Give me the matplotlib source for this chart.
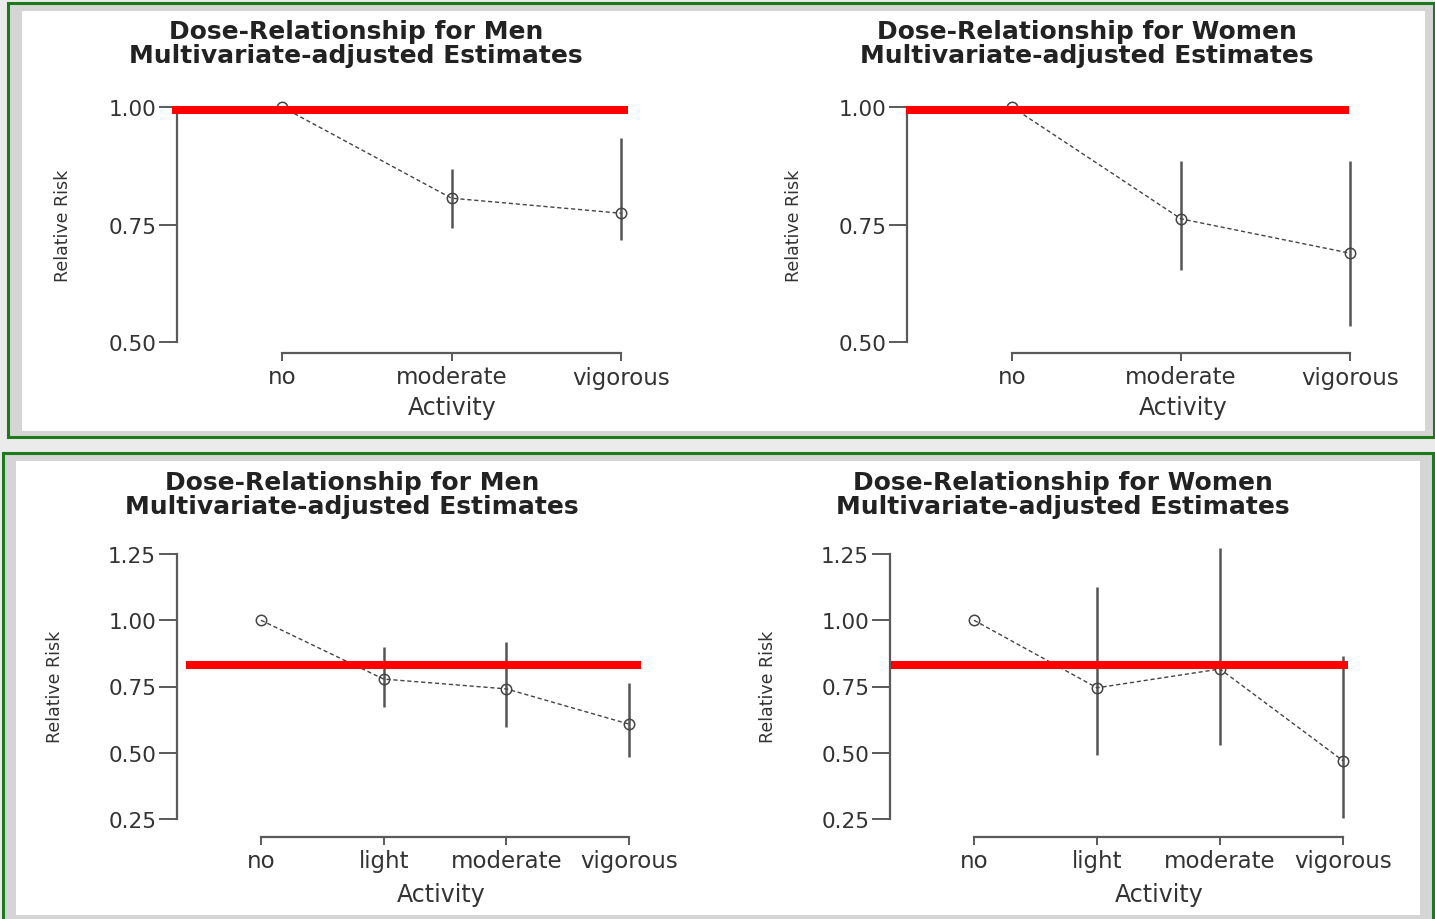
import numpy as np
import matplotlib
matplotlib.use('Agg')
import matplotlib.pyplot as plt
from matplotlib.patches import Rectangle

# data
cats3 = ['no', 'moderate', 'vigorous']
cats4 = ['no', 'light', 'moderate', 'vigorous']

men3_rr = [1.00, 0.806, 0.774]
men3_lo = [1.00, 0.743, 0.717]
men3_hi = [1.00, 0.868, 0.934]

women3_rr = [1.00, 0.762, 0.689]
women3_lo = [1.00, 0.653, 0.534]
women3_hi = [1.00, 0.885, 0.885]

men4_rr = [1.00, 0.778, 0.741, 0.608]
men4_lo = [1.00, 0.673, 0.597, 0.484]
men4_hi = [1.00, 0.899, 0.918, 0.763]

women4_rr = [1.00, 0.745, 0.816, 0.470]
women4_lo = [1.00, 0.491, 0.529, 0.254]
women4_hi = [1.00, 1.125, 1.273, 0.865]

ref_level = [0.994, 0.994, 0.831, 0.831]
yticks3 = [0.50, 0.75, 1.00]
yticks4 = [0.25, 0.50, 0.75, 1.00, 1.25]

titles = ['Dose-Relationship for Men\nMultivariate-adjusted Estimates',
          'Dose-Relationship for Women\nMultivariate-adjusted Estimates',
          'Dose-Relationship for Men\nMultivariate-adjusted Estimates',
          'Dose-Relationship for Women\nMultivariate-adjusted Estimates']

W, H = 1435, 920
fig = plt.figure(figsize=(W / 100, H / 100), dpi=100, facecolor='#ebebeb')

def fx(x):
    return x / W

def fy(y):
    return 1 - y / H

# green framed boxes
for (x0, y0, x1, y1), (wx0, wy0, wx1, wy1) in [((8, 4, 1434, 438), (22, 12, 1425, 432)),
                                              ((3, 454, 1433, 922), (16, 462, 1420, 916))]:
    fig.patches.append(Rectangle((fx(x0), fy(y1)), fx(x1 - x0), (y1 - y0) / H,
                                 transform=fig.transFigure, facecolor='#d5d5d5',
                                 edgecolor='#1b7a1b', linewidth=2.2, zorder=-3))
    fig.patches.append(Rectangle((fx(wx0), fy(wy1)), fx(wx1 - wx0), (wy1 - wy0) / H,
                                 transform=fig.transFigure, facecolor='white',
                                 edgecolor='none', zorder=-2))

txt = '#333333'
axc = '#5a5a5a'

def make_ax(box, xpx, ypx, yvals, n):
    left, right, top, bottom = box
    ax = fig.add_axes([fx(left), fy(bottom), fx(right - left), (bottom - top) / H])
    ax.set_zorder(1)
    ax.patch.set_alpha(0)
    xs = (xpx[1] - xpx[0]) / (n - 1)
    ax.set_xlim((left - xpx[0]) / xs, (right - xpx[0]) / xs)
    ys = (ypx[0] - ypx[1]) / (yvals[1] - yvals[0])
    ax.set_ylim(yvals[0] - (bottom - ypx[0]) / ys, yvals[1] + (ypx[1] - top) / ys)
    return ax

panels = [
    (cats3, men3_rr, men3_lo, men3_hi, yticks3, (177, 660, 95, 354), (282, 621), (343, 108), (0.5, 1.0), (-0.649, 2.04)),
    (cats3, women3_rr, women3_lo, women3_hi, yticks3, (907, 1400, 95, 354), (1012, 1350), (343, 108), (0.5, 1.0), (-0.627, 1.995)),
    (cats4, men4_rr, men4_lo, men4_hi, yticks4, (177, 660, 540, 838), (261, 629), (820, 555), (0.25, 1.25), (-0.611, 3.10)),
    (cats4, women4_rr, women4_lo, women4_hi, yticks4, (890, 1400, 540, 838), (974, 1343), (820, 555), (0.25, 1.25), (-0.675, 3.04)),
]
title_pos = [(356, 44), (1087, 44), (352, 495), (1063, 495)]
ylab_pos = [(63, 226), (794, 226), (55, 687), (768, 687)]
xlab_pos = [(452, 408), (1183, 408), (441, 895), (1159, 895)]

for i, (cats, rr, lo, hi, yt, box, xpx, ypx, yv, redx) in enumerate(panels):
    n = len(cats)
    ax = make_ax(box, xpx, ypx, yv, n)
    x = np.arange(n)
    ax.vlines(x, lo, hi, color='#555555', linewidth=1.8, zorder=2)
    ax.plot(x, rr, linestyle=(0, (3, 2)), color='#444444', linewidth=1.0,
            marker='o', markersize=7.5, markerfacecolor='none',
            markeredgecolor='#444444', markeredgewidth=1.1, zorder=3)
    ax.plot(redx, [ref_level[i]] * 2, color='#ff0000', linewidth=5.8,
            solid_capstyle='butt', clip_on=False, zorder=5)

    for s in ['top', 'right']:
        ax.spines[s].set_visible(False)
    ax.spines['left'].set_bounds(yt[0], yt[-1])
    ax.spines['bottom'].set_bounds(0, n - 1)
    for s in ['left', 'bottom']:
        ax.spines[s].set_color(axc)
        ax.spines[s].set_linewidth(1.6)
    ax.set_yticks(yt)
    ax.set_yticklabels(['%.2f' % v for v in yt])
    ax.set_xticks(x)
    ax.set_xticklabels(cats)
    ax.tick_params(axis='y', length=13, width=1.4, color=axc, labelsize=15.5,
                   labelcolor=txt, pad=2)
    ax.tick_params(axis='x', length=6, width=1.4, color=axc, labelsize=16.5,
                   labelcolor=txt, pad=3)

    tx, ty = title_pos[i]
    fig.text(fx(tx), fy(ty), titles[i], ha='center', va='center', fontsize=18,
             fontweight='bold', color='#222222', linespacing=1.0)
    lx, ly = ylab_pos[i]
    fig.text(fx(lx), fy(ly), 'Relative Risk', ha='center', va='center', rotation=90,
             fontsize=12.5, color=txt)
    ax_x, ax_y = xlab_pos[i]
    fig.text(fx(ax_x), fy(ax_y), 'Activity', ha='center', va='center', fontsize=17,
             color=txt)

fig.savefig('out.png', dpi=100, facecolor=fig.get_facecolor())
